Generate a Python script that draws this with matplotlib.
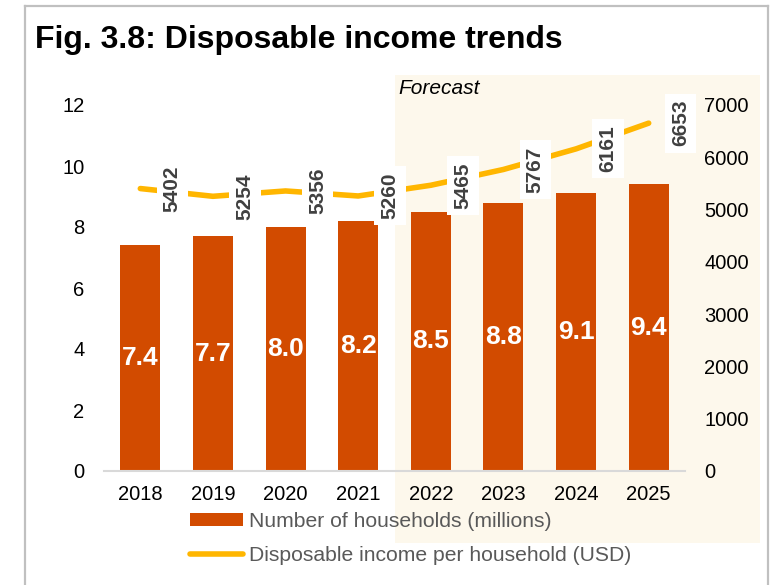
import matplotlib.pyplot as plt
from matplotlib.patches import Rectangle, Patch
from matplotlib.lines import Line2D

plt.rcParams['font.family'] = ['Liberation Sans', 'DejaVu Sans']

years = ['2018', '2019', '2020', '2021', '2022', '2023', '2024', '2025']
households = [7.4, 7.7, 8.0, 8.2, 8.5, 8.8, 9.1, 9.4]   # millions
income = [5402, 5254, 5356, 5260, 5465, 5767, 6161, 6653]  # USD per household
left_ticks = [0, 2, 4, 6, 8, 10, 12]
right_ticks = [0, 1000, 2000, 3000, 4000, 5000, 6000, 7000]

bar_col = '#D24B00'
line_col = '#FFB600'
W, H = 780, 585

fig = plt.figure(figsize=(7.8, 5.85), dpi=100)

def fx(px):
    return px / W

def fy(py):
    return 1 - py / H

# forecast band behind the plot
fig.add_artist(Rectangle((fx(395), fy(543)), fx(760) - fx(395), fy(75) - fy(543),
                         transform=fig.transFigure, facecolor='#FDF8EC',
                         edgecolor='none', zorder=-5))

# grey frame round the figure
frame = dict(transform=fig.transFigure, color='#C0C0C0', lw=1.6, zorder=-4)
fig.add_artist(Line2D([fx(25), fx(25)], [fy(6), 0], **frame))
fig.add_artist(Line2D([fx(25), fx(768)], [fy(6), fy(6)], **frame))
fig.add_artist(Line2D([fx(768), fx(768)], [fy(6), 0], **frame))

fig.text(fx(35), fy(48), 'Fig. 3.8: Disposable income trends', fontsize=23,
         fontweight='bold', va='baseline', ha='left')
fig.text(fx(398), fy(88), 'Forecast', fontsize=15, style='italic',
         va='center', ha='left')

ax = fig.add_axes([fx(104), fy(471), fx(685) - fx(104), fy(105) - fy(471)])
ax.patch.set_visible(False)
x = list(range(len(years)))
bars = ax.bar(x, households, width=0.55, color=bar_col, zorder=2)
ax.bar_label(bars, labels=[f'{v:.1f}' for v in households], label_type='center',
             color='white', fontsize=19, fontweight='bold')
ax.set_xlim(-0.5, len(years) - 0.5)
ax.set_ylim(0, 12)
ax.set_yticks(left_ticks)
ax.set_xticks(x)
ax.set_xticklabels(years)
ax.tick_params(axis='both', length=0, labelsize=14.5)
ax.tick_params(axis='y', pad=14)
ax.tick_params(axis='x', pad=10)
for s in ['top', 'left', 'right']:
    ax.spines[s].set_visible(False)
ax.spines['bottom'].set_color('#D9D9D9')
ax.spines['bottom'].set_linewidth(1.5)

ax2 = ax.twinx()
ax2.patch.set_visible(False)
ax2.plot(x, income, color=line_col, lw=4, solid_capstyle='round',
         solid_joinstyle='round', zorder=2)
ax2.set_ylim(0, 7000)
ax2.set_yticks(right_ticks)
ax2.tick_params(axis='y', length=0, labelsize=14.5, pad=14)
for s in ax2.spines.values():
    s.set_visible(False)

for xi, v in zip(x, income):
    ax2.annotate(str(v), (xi, v), xytext=(23, 0), textcoords='offset points',
                 rotation=90, ha='center', va='center', fontsize=15,
                 fontweight='bold', color='#404040', zorder=4,
                 bbox=dict(boxstyle='square,pad=0.3', facecolor='white',
                           edgecolor='none'))

handles = [Patch(facecolor=bar_col, edgecolor='none'),
           Line2D([], [], color=line_col, lw=4, solid_capstyle='round')]
fig.legend(handles, ['Number of households (millions)',
                     'Disposable income per household (USD)'],
           loc='upper left', bbox_to_anchor=(fx(190), fy(512)), frameon=False,
           fontsize=15.2, labelcolor='#595959', handlelength=2.5,
           handleheight=0.5, handletextpad=0.3, labelspacing=0.7,
           borderpad=0, borderaxespad=0)

fig.savefig('out.png', dpi=100)
